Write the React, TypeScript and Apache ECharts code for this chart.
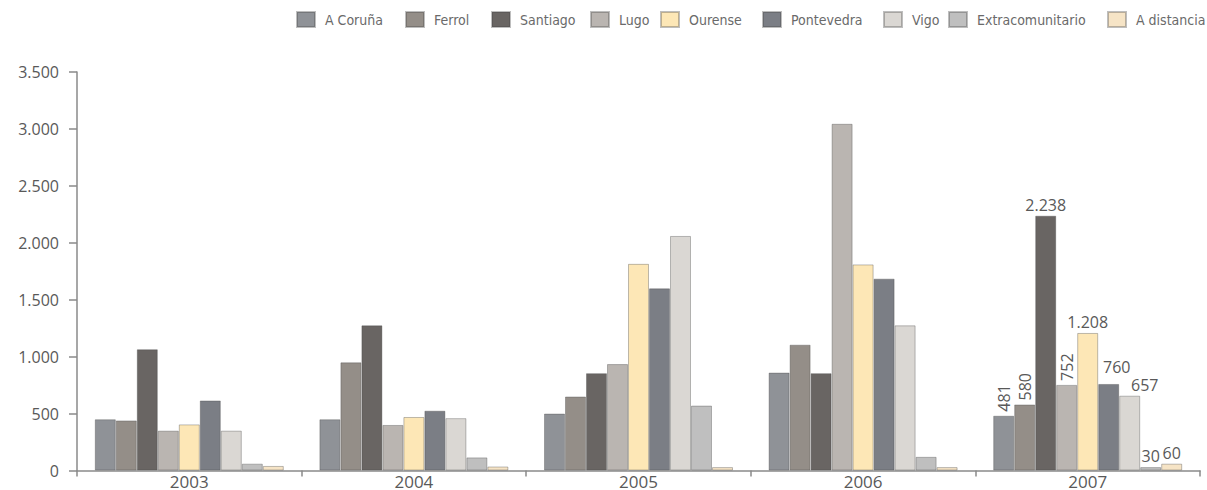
import React, { useEffect, useRef } from "react";
import * as echarts from "echarts";

const years = ["2003", "2004", "2005", "2006", "2007"];
const seriesNames = [
  "A Coruña",
  "Ferrol",
  "Santiago",
  "Lugo",
  "Ourense",
  "Pontevedra",
  "Vigo",
  "Extracomunitario",
  "A distancia",
];
const aCoruna = [450, 450, 500, 860, 481];
const ferrol = [440, 950, 650, 1105, 580];
const santiago = [1065, 1275, 855, 855, 2238];
const lugo = [350, 400, 935, 3045, 752];
const ourense = [405, 470, 1815, 1810, 1208];
const pontevedra = [615, 525, 1600, 1685, 760];
const vigo = [350, 460, 2060, 1275, 657];
const extracomunitario = [60, 115, 570, 120, 30];
const aDistancia = [40, 35, 30, 30, 60];
const yTicks = [0, 500, 1000, 1500, 2000, 2500, 3000, 3500];

const allValues = [aCoruna, ferrol, santiago, lugo, ourense, pontevedra, vigo, extracomunitario, aDistancia];
const colors = ["#8f9297", "#948e88", "#696563", "#bab5b1", "#fde7b6", "#7b7e85", "#dad7d3", "#bfbfbf", "#f6e4c6"];
const rotatedLabels = ["A Coruña", "Ferrol", "Lugo"];
const labelOffsets: Record<string, number[]> = { Pontevedra: [8, -6], Vigo: [15, 0] };
const legendLeft = [296, 405, 491, 590, 660, 762, 883, 948, 1107];

const fmt = (v: number) => String(v).replace(/\B(?=(\d{3})+(?!\d))/g, ".");

export default function App() {
  const ref = useRef<HTMLDivElement>(null);
  useEffect(() => {
    if (!ref.current) return;
    const chart = echarts.init(ref.current, null, { renderer: "svg" });
    const font = "'Open Sans', 'DejaVu Sans', sans-serif";
    const labelColor = "#595959";
    const series = seriesNames.map((name, si) => ({
      name,
      type: "bar",
      barWidth: 21,
      barGap: "0%",
      itemStyle: { color: colors[si], borderColor: "rgba(70,70,70,0.35)", borderWidth: 1 },
      data: allValues[si].map((v, i) => {
        if (i !== years.length - 1) return v;
        const rot = rotatedLabels.includes(name);
        return {
          value: v,
          label: {
            show: true,
            position: "top",
            distance: rot ? 4 : 3,
            rotate: rot ? 90 : 0,
            align: rot ? "left" : "center",
            verticalAlign: rot ? "middle" : "bottom",
            offset: labelOffsets[name] || [0, 0],
            formatter: (p: any) => fmt(p.value),
            color: labelColor,
            fontFamily: font,
            fontSize: 16,
          },
        };
      }),
    }));
    const legends = seriesNames.map((name, i) => ({
      data: [name],
      left: legendLeft[i],
      top: 11,
      padding: 0,
      itemWidth: 18,
      itemHeight: 15,
      icon: "rect",
      textStyle: {
        color: "#6a6a6a",
        fontFamily: "'DejaVu Sans Condensed', 'Liberation Sans Narrow', Roboto, sans-serif",
        fontSize: 14,
        padding: [0, 0, 0, 5],
      },
    }));
    chart.setOption({
      animation: false,
      backgroundColor: "#ffffff",
      legend: legends,
      grid: { left: 77, right: 7, top: 72, bottom: 19.5, containLabel: false },
      xAxis: {
        type: "category",
        data: years,
        axisLine: { lineStyle: { color: "#8a8a8a", width: 1.5 } },
        axisTick: { show: true, length: 6, lineStyle: { color: "#8a8a8a", width: 1.5 } },
        axisLabel: { color: labelColor, fontFamily: font, fontSize: 17, margin: 2 },
      },
      yAxis: {
        type: "value",
        min: yTicks[0],
        max: yTicks[yTicks.length - 1],
        interval: yTicks[1] - yTicks[0],
        splitLine: { show: false },
        axisLine: { show: true, lineStyle: { color: "#8a8a8a", width: 1.5 } },
        axisTick: { show: true, length: 8, lineStyle: { color: "#8a8a8a", width: 1.5 } },
        axisLabel: {
          color: labelColor,
          fontFamily: font,
          fontSize: 16,
          margin: 18,
          formatter: (v: number) => fmt(v),
        },
      },
      series,
    });
    return () => chart.dispose();
  }, []);
  return (
    <div
      ref={ref}
      style={{ position: "fixed", left: 0, top: 0, width: 1207, height: 490, background: "#fff" }}
    />
  );
}
